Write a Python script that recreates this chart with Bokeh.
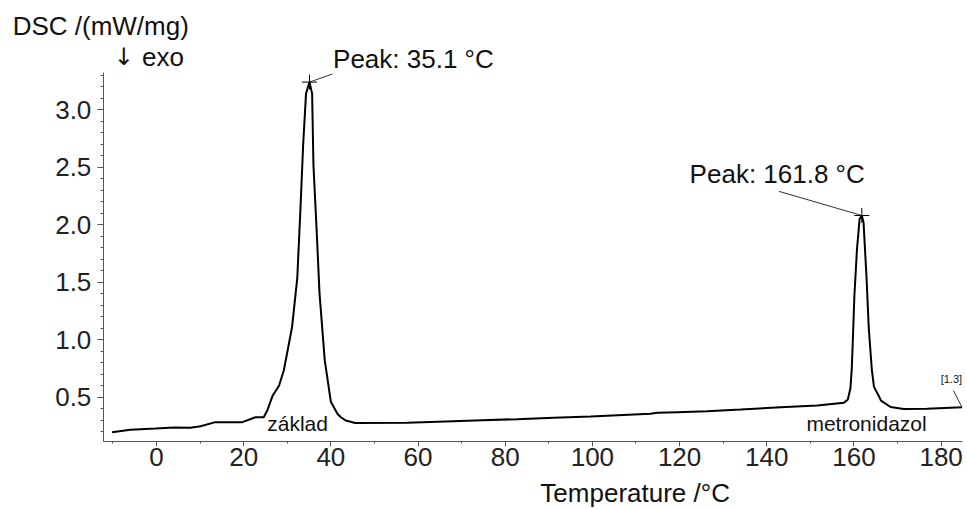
from bokeh.plotting import figure
from bokeh.models import Range1d, Label, SingleIntervalTicker, LinearAxis, PrintfTickFormatter
from bokeh.embed import file_html
from bokeh.resources import INLINE

FONT = "Liberation Sans"

# DSC curve
temperature = [-10.2, -6.0, -0.2, 4.0, 7.8, 10.1, 13.5, 19.7, 22.7, 24.6, 25.4, 26.6, 28.1,
               29.2, 31.1, 32.3, 33.0, 33.65, 34.3, 35.1, 35.7, 36.0, 36.7, 37.4,
               38.6, 40.0, 41.5, 42.3, 43.4, 45.6, 57.5, 66.3, 74.7, 82.7, 91.1,
               99.6, 113.3, 114.9, 119.5, 126.3, 134.0, 143.2, 151.6, 157.7, 158.6,
               159.2, 159.5, 159.7, 160.1, 160.7, 161.3, 161.8, 162.2, 162.9, 163.4,
               164.1, 164.6, 165.7, 166.2, 168.4, 171.4, 176.8, 184.8]
dsc = [0.196, 0.217, 0.228, 0.237, 0.234, 0.248, 0.283, 0.283, 0.326, 0.326, 0.384, 0.51, 0.60,
       0.732, 1.11, 1.54, 2.12, 2.70, 3.14, 3.24, 3.14, 2.52, 1.98, 1.40,
       0.82, 0.46, 0.356, 0.326, 0.297, 0.276, 0.277, 0.289, 0.300, 0.309, 0.321,
       0.332, 0.356, 0.364, 0.370, 0.378, 0.393, 0.413, 0.428, 0.451, 0.48,
       0.58, 0.75, 0.95, 1.38, 1.79, 2.05, 2.08, 2.02, 1.53, 1.10,
       0.74, 0.59, 0.51, 0.47, 0.415, 0.398, 0.400, 0.413]

peak_x = [35.1, 161.8]
peak_y = [3.24, 2.08]
peak_labels = ["Peak: 35.1 \u00b0C", "Peak: 161.8 \u00b0C"]

x_axis_bounds = (-12.2, 184.8)
y_axis_bounds = (0.115, 3.323)

p = figure(width=967, height=509, output_backend="svg", toolbar_location=None,
           x_range=Range1d(-35.79, 186.05), y_range=Range1d(-0.4765, 3.9496),
           x_axis_location=None, y_axis_location=None,
           min_border=0, min_border_left=0, min_border_right=0,
           min_border_top=0, min_border_bottom=0)
p.outline_line_color = None
p.grid.visible = False
p.background_fill_color = "white"
p.border_fill_color = "white"

xax = LinearAxis(fixed_location=y_axis_bounds[0], bounds=x_axis_bounds,
                 ticker=SingleIntervalTicker(interval=20, num_minor_ticks=2))
yax = LinearAxis(fixed_location=x_axis_bounds[0], bounds=y_axis_bounds,
                 ticker=SingleIntervalTicker(interval=0.5, num_minor_ticks=5),
                 formatter=PrintfTickFormatter(format="%.1f"))
p.add_layout(xax, "below")
p.add_layout(yax, "left")

for ax in (xax, yax):
    ax.axis_line_color = "#555555"
    ax.major_tick_line_color = "#555555"
    ax.minor_tick_line_color = "#555555"
    ax.major_tick_in = 0
    ax.minor_tick_in = 0
    ax.major_label_text_font = FONT
    ax.major_label_text_font_size = "26px"
    ax.major_label_text_color = "#222222"

xax.major_tick_out = 5
xax.minor_tick_out = 2
yax.major_tick_out = 6
yax.minor_tick_out = 3
xax.major_label_standoff = 2
yax.major_label_standoff = 6

p.line(temperature, dsc, line_color="black", line_width=2)

# leader lines
p.line([peak_x[0], 40.3], [peak_y[0], 3.31], line_color="#333333", line_width=1)
p.line([142.8, peak_x[1]], [2.29, peak_y[1]], line_color="#333333", line_width=1)
p.line([182.8, temperature[-1]], [0.558, dsc[-1]], line_color="#333333", line_width=1)
p.scatter(peak_x, peak_y, marker="cross", size=15, line_color="black", line_width=1)

def lab(x, y, t, size, align="left", font=FONT):
    p.add_layout(Label(x=x, y=y, y_offset=10, text=t, text_font=font, text_font_size=size,
                       text_color="#111111", text_align=align, text_baseline="alphabetic"))

lab(40.5, 3.356, peak_labels[0], "26px")
lab(122.3, 2.356, peak_labels[1], "26px")
lab(25.4, 0.182, "z\u00e1klad", "21px")
lab(149.1, 0.182, "metronidazol", "21px")
lab(179.9, 0.57, "[1.3]", "11px")
lab(-33.0, 3.645, "DSC /(mW/mg)", "26px")
lab(-9.8, 3.37, "\u2193", "24px", font="DejaVu Sans")
lab(-3.3, 3.37, "exo", "26px")
lab(109.8, -0.42, "Temperature /\u00b0C", "26px", align="center")

open("out.html", "w").write(file_html(p, INLINE))
